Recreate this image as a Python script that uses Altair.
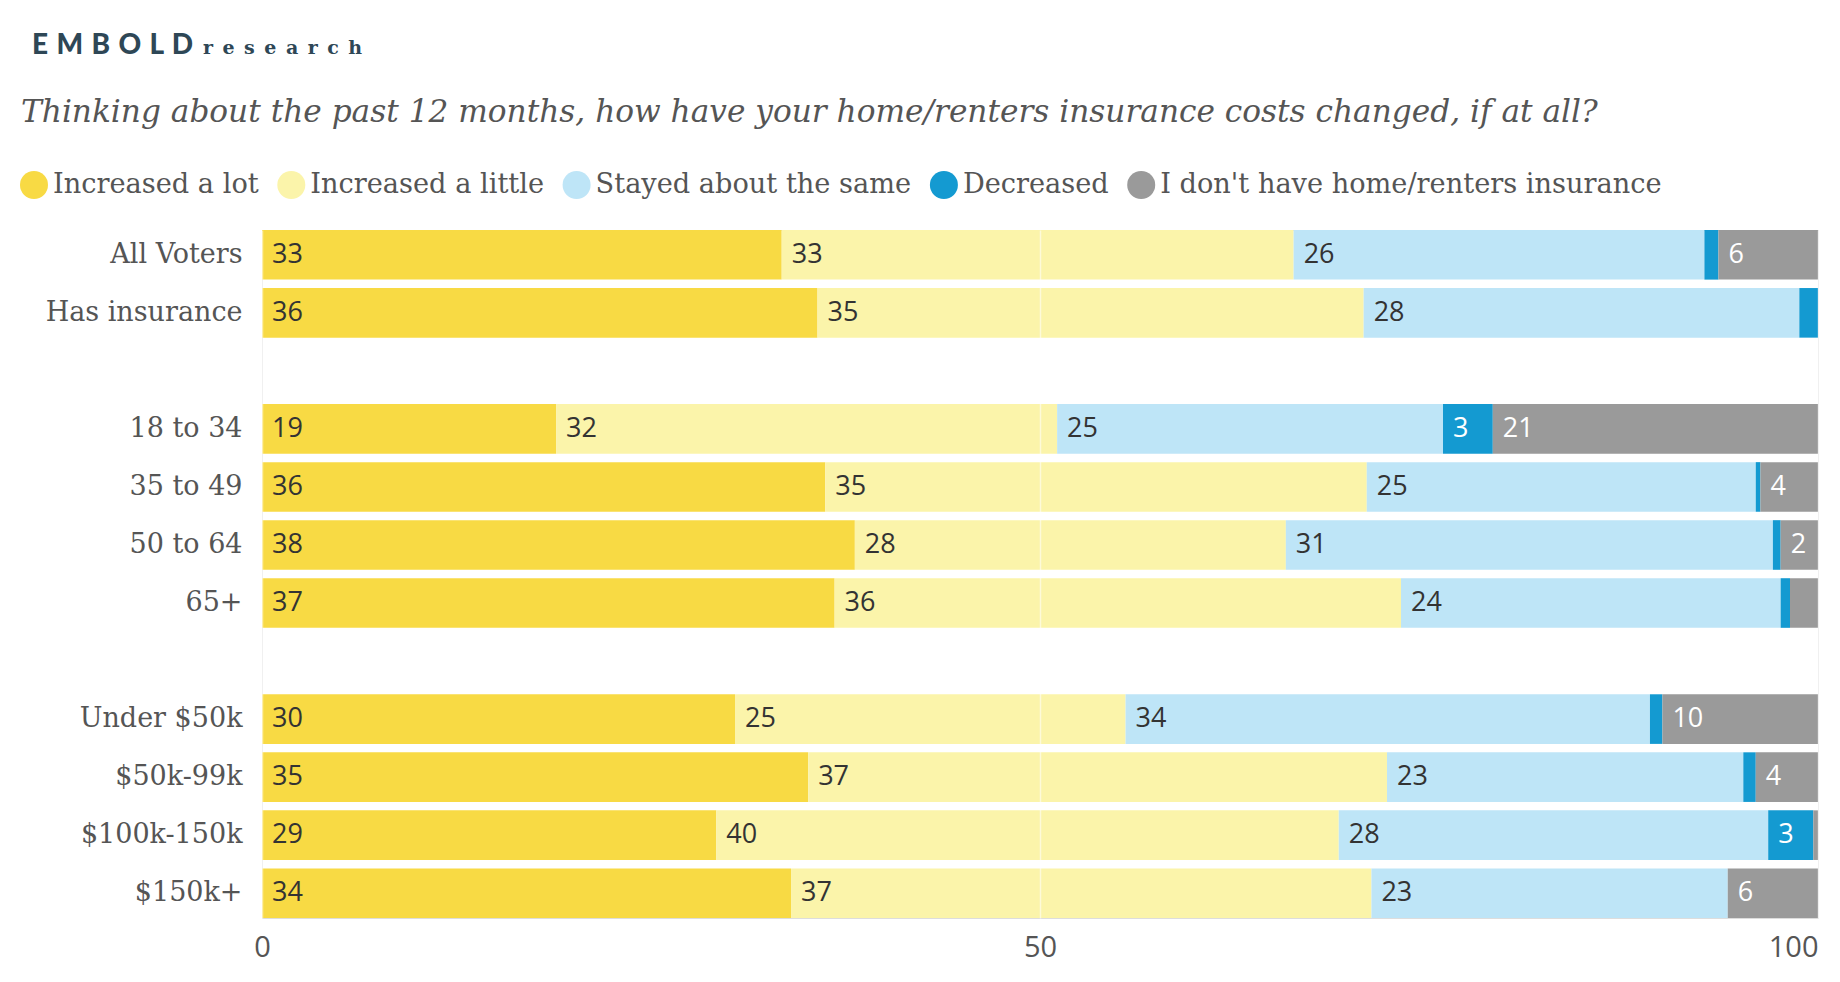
import pandas as pd
import altair as alt

# rows of the chart (top to bottom); blank strings are the gaps between groups
groups = ["All Voters", "Has insurance", "18 to 34", "35 to 49", "50 to 64", "65+",
          "Under $50k", "$50k-99k", "$100k-150k", "$150k+"]
row_order = ["All Voters", "Has insurance", " ",
             "18 to 34", "35 to 49", "50 to 64", "65+", "  ",
             "Under $50k", "$50k-99k", "$100k-150k", "$150k+"]

categories = ["Increased a lot", "Increased a little", "Stayed about the same",
              "Decreased", "I don't have home/renters insurance"]
colors = ["#F8DA44", "#FBF4AA", "#BEE5F7", "#149AD1", "#9A9A9A"]

# percentages
increased_lot = [33.4, 35.7, 18.9, 36.2, 38.1, 36.8, 30.4, 35.1, 29.2, 34.0]
increased_little = [32.9, 35.1, 32.2, 34.8, 27.7, 36.4, 25.1, 37.2, 40.0, 37.3]
stayed = [26.4, 28.0, 24.8, 25.0, 31.3, 24.4, 33.7, 22.9, 27.6, 22.9]
decreased = [0.9, 1.2, 3.2, 0.3, 0.5, 0.6, 0.8, 0.8, 2.9, 0.0]
no_insurance = [6.4, 0.0, 20.9, 3.7, 2.4, 1.8, 10.0, 4.0, 0.3, 5.8]

series = [increased_lot, increased_little, stayed, decreased, no_insurance]
rows = []
for k, (cat, vals) in enumerate(zip(categories, series)):
    for g, v in zip(groups, vals):
        rows.append({"group": g, "category": cat, "order": k, "value": v})
df = pd.DataFrame(rows)

serif = "DejaVu Serif"
sans = "Open Sans"
grey_text = "#555555"

base = alt.Chart(df).transform_stack(
    stack="value",
    groupby=["group"],
    as_=["x0", "x1"],
    sort=[alt.SortField("order", order="ascending")],
)

y_enc = alt.Y("group:N", sort=row_order,
              scale=alt.Scale(domain=row_order, paddingInner=0.145, paddingOuter=0),
              axis=alt.Axis(title=None, domain=False, ticks=False,
                            labelFont=serif, labelFontSize=27, labelColor=grey_text,
                            labelPadding=20, labelLimit=0))

bars = base.mark_bar().encode(
    x=alt.X("x0:Q", scale=alt.Scale(domain=[0, 100], nice=False),
            axis=alt.Axis(title=None, values=[0, 50, 100], domain=False, ticks=False,
                          labelFont=sans, labelFontSize=29, labelColor=grey_text,
                          labelPadding=15,
                          labelAlign={"expr": "datum.value == 100 ? 'right' : 'center'"},
                          grid=True, gridColor="white", gridOpacity=0.55,
                          gridWidth=1.5, zindex=1)),
    x2="x1:Q",
    y=y_enc,
    color=alt.Color("category:N",
                    scale=alt.Scale(domain=categories, range=colors),
                    legend=alt.Legend(orient="none", legendX=-242, legendY=-59,
                                      direction="horizontal", title=None,
                                      symbolType="circle", symbolSize=784,
                                      symbolStrokeWidth=0, symbolOpacity=1,
                                      labelFont=serif, labelFontSize=27.2,
                                      labelColor=grey_text, labelOffset=5,
                                      labelLimit=0, columnPadding=18.3, padding=0)),
)

labels = base.transform_filter("datum.value >= 2").mark_text(
    align="left", baseline="middle", dx=10, font=sans, fontSize=27
).encode(
    x="x0:Q",
    y=alt.Y("group:N", sort=row_order),
    text=alt.Text("value:Q", format=".0f"),
    color=alt.condition(
        alt.FieldOneOfPredicate(field="category",
                                oneOf=["Decreased", "I don't have home/renters insurance"]),
        alt.value("white"), alt.value("#333333")),
)

logo_df = pd.DataFrame({"t": ["E \u200aM \u200aB \u200aO \u200aL \u200aD"]})
logo = alt.Chart(logo_df).mark_text(
    align="left", baseline="alphabetic", font="Lato", fontWeight=900,
    fontSize=28, color="#2E4756"
).encode(text="t:N", x=alt.value(-230), y=alt.value(-176))

logo2_df = pd.DataFrame({"t": ["r\u2002e\u2002s\u2002e\u2002a\u2002r\u2002c\u2002h"]})
logo2 = alt.Chart(logo2_df).mark_text(
    align="left", baseline="alphabetic", font=serif, fontWeight="bold",
    fontSize=19, color="#2E4756"
).encode(text="t:N", x=alt.value(-59), y=alt.value(-176))

chart = alt.layer(bars, labels, logo, logo2).properties(
    width=1556,
    height=688,
    padding={"left": 254, "top": 222, "right": 14, "bottom": 56},
    autosize=alt.AutoSizeParams(type="none"),
    title=alt.TitleParams(
        "Thinking about the past 12 months, how have your home/renters insurance costs changed, if at all?",
        anchor="start", frame="group", font=serif, fontStyle="italic",
        fontWeight="normal", fontSize=31.2, color=grey_text, dx=-241, dy=100,
    ),
).configure_view(stroke=None).configure(background="white")

chart.save("out.html", embed_options={"renderer": "svg", "actions": False})
